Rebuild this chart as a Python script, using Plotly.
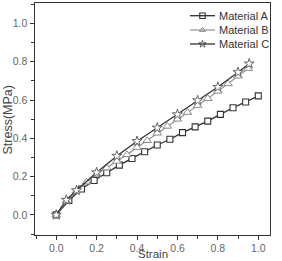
import plotly.graph_objects as go

# Material A
strain_a = [0.0, 0.0625, 0.125, 0.1875, 0.25, 0.3125, 0.375, 0.4375, 0.5, 0.5625,
            0.625, 0.6875, 0.75, 0.8125, 0.875, 0.9375, 1.0]
stress_a = [0.0, 0.075, 0.135, 0.18, 0.22, 0.26, 0.295, 0.33, 0.365, 0.395,
            0.43, 0.46, 0.49, 0.525, 0.56, 0.59, 0.622]
# Material B
strain_b = [0.0, 0.05, 0.1, 0.15, 0.2, 0.25, 0.3, 0.35, 0.4, 0.45, 0.5,
            0.55, 0.6, 0.65, 0.7, 0.75, 0.8, 0.85, 0.9, 0.95]
stress_b = [0.0, 0.072, 0.125, 0.172, 0.212, 0.245, 0.28, 0.315, 0.352, 0.388, 0.427,
            0.463, 0.5, 0.535, 0.572, 0.608, 0.646, 0.685, 0.725, 0.765]
# Material C
strain_c = [0.0, 0.05, 0.1, 0.2, 0.3, 0.4, 0.5, 0.6, 0.7, 0.8, 0.9, 0.955]
stress_c = [0.0, 0.078, 0.128, 0.222, 0.308, 0.385, 0.455, 0.525, 0.598, 0.668, 0.745, 0.79]

names = ["Material A", "Material B", "Material C"]
x_title = "Strain"
y_title = "Stress(MPa)"

styles = [
    dict(line=dict(color="#2e2e2e", width=1.3),
         marker=dict(symbol="square", size=6, color="white", line=dict(color="#333333", width=1.1))),
    dict(line=dict(color="#9a9a9a", width=1.3),
         marker=dict(symbol="triangle-up", size=7.5, color="white", line=dict(color="#8a8a8a", width=1.0))),
    dict(line=dict(color="#333333", width=1.3),
         marker=dict(symbol="star", size=7.5, color="white", line=dict(color="#666666", width=1.0))),
]

fig = go.Figure()
for (xs, ys), name, st in zip([(strain_a, stress_a), (strain_b, stress_b), (strain_c, stress_c)], names, styles):
    fig.add_trace(go.Scatter(x=xs, y=ys, name=name, mode="lines+markers",
                             line=st["line"], marker=st["marker"], showlegend=False))

W, H = 282, 261
L, R, T, B = 35, 12, 3, 26
pw, ph = W - L - R, H - T - B
def fx(px):
    return (px - L) / pw
def fy(py):
    return (H - B - py) / ph

# Manual compact legend
rows_py = [15.7, 30, 44]
for name, st, py in zip(names, styles, rows_py):
    fig.add_shape(type="line", xref="paper", yref="paper",
                  x0=fx(190), x1=fx(215), y0=fy(py), y1=fy(py),
                  line=dict(color=st["line"]["color"], width=1.3))
    m = dict(st["marker"]); m["size"] = 5.5
    fig.add_trace(go.Scatter(x=[fx(202.5)], y=[fy(py)], xaxis="x2", yaxis="y2",
                             mode="markers", marker=m, showlegend=False, hoverinfo="skip",
                             cliponaxis=False))
    fig.add_annotation(x=fx(216.5), y=fy(py), xref="paper", yref="paper", text=name,
                       showarrow=False, xanchor="left", yanchor="middle",
                       font=dict(family="Liberation Sans, Arial", size=11, color="#333333"))

# Axis titles as annotations (precise placement)
fig.add_annotation(x=fx(153), y=fy(261), xref="paper", yref="paper", text=x_title,
                   showarrow=False, xanchor="center", yanchor="bottom", borderpad=0,
                   font=dict(family="Liberation Sans, Arial", size=11.5, color="#444444"))
fig.add_annotation(x=fx(7.5), y=fy(120), xref="paper", yref="paper", text=y_title,
                   showarrow=False, xanchor="center", yanchor="middle", textangle=-90,
                   font=dict(family="Liberation Sans, Arial", size=12.5, color="#444444"))

axis_common = dict(
    showline=True, linecolor="#333333", linewidth=1.3, mirror=True,
    showgrid=False, zeroline=False, automargin=False,
    ticks="outside", ticklen=3.5, tickwidth=1, tickcolor="#333333",
    tickfont=dict(family="Liberation Sans, Arial", size=10.5, color="#666666"),
    tickformat=".1f",
    minor=dict(ticks="outside", ticklen=2.5, dtick=0.1, tickcolor="#333333"),
)

fig.update_layout(
    width=W, height=H,
    margin=dict(l=L, r=R, t=T, b=B),
    paper_bgcolor="white", plot_bgcolor="white",
    showlegend=False,
    xaxis=dict(axis_common, range=[-0.105, 1.058], dtick=0.2, tick0=0),
    yaxis=dict(axis_common, range=[-0.105, 1.107], dtick=0.2, tick0=0, ticklabelstandoff=1),
    xaxis2=dict(overlaying="x", range=[0, 1], visible=False, fixedrange=True),
    yaxis2=dict(overlaying="y", range=[0, 1], visible=False, fixedrange=True),
)

fig.write_html("out.html")
